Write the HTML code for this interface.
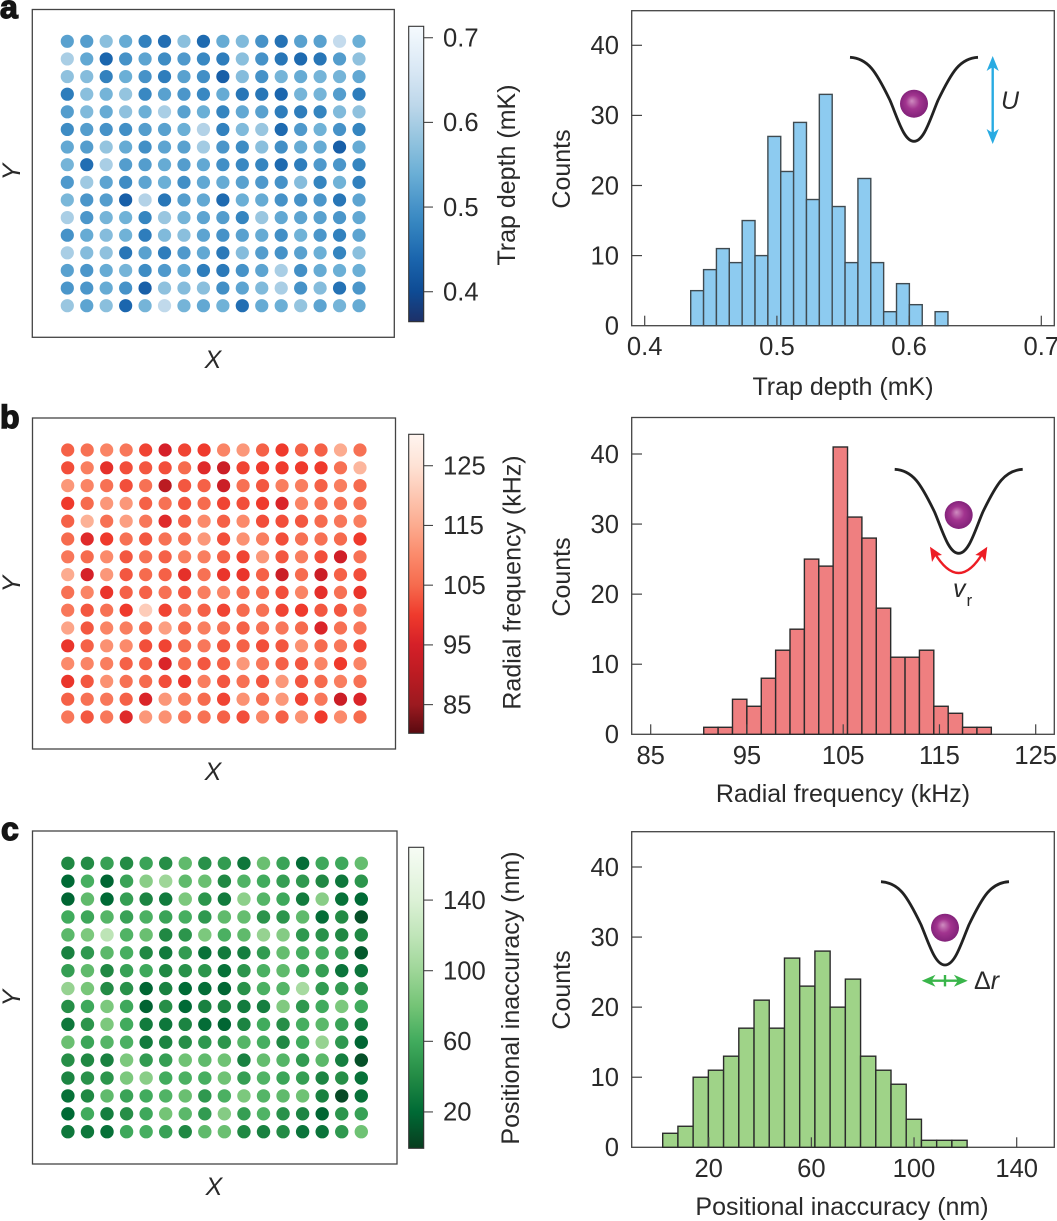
<!DOCTYPE html>
<html lang="en">
<head>
<meta charset="utf-8">
<title>Optical trap array statistics</title>
<style>
html,body{margin:0;padding:0;background:#fff;}
svg{display:block;font-family:"Liberation Sans",sans-serif;fill:#2a2a2a;}
.tick{font-size:25.6px;}
.title{font-size:25px;}
.ital{font-size:25px;font-style:italic;}
.letter{font-size:32px;font-weight:bold;fill:#151515;stroke:#151515;stroke-width:1.4px;}
</style>
</head>
<body>
<svg id="figure" xmlns="http://www.w3.org/2000/svg" width="1057" height="1221" viewBox="0 0 1057 1221">
  <defs>
    <radialGradient id="ballGrad" cx="50%" cy="50%" r="55%" fx="42%" fy="40%">
      <stop offset="0" stop-color="#cf8cc0"/>
      <stop offset=".45" stop-color="#a2348f"/>
      <stop offset="1" stop-color="#7d1f76"/>
    </radialGradient>
  </defs>
  <rect width="1057" height="1221" fill="#fff"/>

  <text class="letter" x="0" y="18">a</text>
  <text class="letter" x="0" y="428">b</text>
  <text class="letter" x="1" y="840">c</text>

  <g id="panelA">
    <text class="ital" x="213" y="368" text-anchor="middle">X</text>
    <text class="ital" transform="translate(20,172) rotate(-90)" text-anchor="middle">Y</text>
    <text class="title" transform="translate(515,175) rotate(-90)" text-anchor="middle">Trap depth (mK)</text>
    <text class="title" transform="translate(570,169) rotate(-90)" text-anchor="middle">Counts</text>
    <text class="title" x="843" y="395" text-anchor="middle">Trap depth (mK)</text>
  </g>
  <g id="panelB">
    <text class="ital" x="213" y="780" text-anchor="middle">X</text>
    <text class="ital" transform="translate(20,584) rotate(-90)" text-anchor="middle">Y</text>
    <text class="title" transform="translate(520.5,582.5) rotate(-90)" text-anchor="middle">Radial frequency (kHz)</text>
    <text class="title" transform="translate(570,577) rotate(-90)" text-anchor="middle">Counts</text>
    <text class="title" x="843" y="802" text-anchor="middle">Radial frequency (kHz)</text>
  </g>
  <g id="panelC">
    <text class="ital" x="214" y="1195" text-anchor="middle">X</text>
    <text class="ital" transform="translate(20,998) rotate(-90)" text-anchor="middle">Y</text>
    <text class="title" transform="translate(519,998) rotate(-90)" text-anchor="middle">Positional inaccuracy (nm)</text>
    <text class="title" transform="translate(570,990) rotate(-90)" text-anchor="middle">Counts</text>
    <text class="title" x="842" y="1215" text-anchor="middle">Positional inaccuracy (nm)</text>
  </g>

  <g id="insets">
    <g>
      <path transform="translate(914,57.3)" d="M-64 0C-46 1-38 14-24 43C-16 62-10 84 0 84C10 84 16 62 24 43C38 14 46 1 64 0" fill="none" stroke="#222" stroke-width="2.8"/>
      <circle cx="914" cy="103.7" r="14" fill="url(#ballGrad)"/>
      <line x1="992.7" y1="64" x2="992.7" y2="136" stroke="#29abe2" stroke-width="2.4"/>
      <polygon points="992.7,56 998.8,71 992.7,67 986.6,71" fill="#29abe2"/>
      <polygon points="992.7,144 998.8,129 992.7,133 986.6,129" fill="#29abe2"/>
      <text class="ital" x="1001" y="109">U</text>
    </g>
    <g>
      <path transform="translate(958.7,469.3)" d="M-64 0C-46 1-38 14-24 43C-16 62-10 84 0 84C10 84 16 62 24 43C38 14 46 1 64 0" fill="none" stroke="#222" stroke-width="2.8"/>
      <circle cx="958.7" cy="515" r="14" fill="url(#ballGrad)"/>
      <path d="M934 552Q958.7 594 983.4 552" fill="none" stroke="#ed1c24" stroke-width="2.4"/>
      <polygon points="930,546.7 932,562 935.5,556 942,555" fill="#ed1c24"/>
      <polygon points="987.3,546.7 985.3,562 981.8,556 975.3,555" fill="#ed1c24"/>
      <text class="ital" x="953" y="597">v<tspan font-style="normal" font-size="17" dx="1" dy="9">r</tspan></text>
    </g>
    <g>
      <path transform="translate(945,881.7)" d="M-64 0C-46 1-38 14-24 43C-16 62-10 83.3 0 83.3C10 83.3 16 62 24 43C38 14 46 1 64 0" fill="none" stroke="#222" stroke-width="2.8"/>
      <circle cx="945" cy="927.7" r="14" fill="url(#ballGrad)"/>
      <line x1="930" y1="980.7" x2="960" y2="980.7" stroke="#39b54a" stroke-width="2.4"/>
      <line x1="945" y1="975" x2="945" y2="986.4" stroke="#39b54a" stroke-width="2.4"/>
      <polygon points="921.7,980.7 935.5,974.7 931.5,980.7 935.5,986.7" fill="#39b54a"/>
      <polygon points="967.7,980.7 953.9,974.7 957.9,980.7 953.9,986.7" fill="#39b54a"/>
      <text x="974" y="989" font-size="25">Δ<tspan font-style="italic">r</tspan></text>
    </g>
  </g>
</svg>

<script>
// ---------- Panel a data ----------
const trapDepthMap = [
[.52,.515,.57,.535,.475,.45,.57,.445,.535,.56,.50,.455,.52,.52,.63,.54],
[.60,.53,.44,.50,.525,.49,.51,.485,.47,.57,.50,.46,.445,.46,.515,.575],
[.575,.565,.475,.54,.50,.47,.52,.495,.43,.565,.50,.55,.535,.55,.55,.53],
[.47,.57,.55,.58,.485,.52,.505,.485,.535,.46,.46,.44,.55,.55,.515,.47],
[.515,.56,.535,.575,.54,.60,.52,.54,.48,.53,.52,.47,.47,.48,.56,.575],
[.49,.515,.50,.495,.515,.52,.54,.61,.475,.56,.585,.445,.51,.545,.50,.48],
[.53,.515,.58,.535,.495,.525,.52,.595,.505,.49,.57,.495,.535,.535,.43,.535],
[.55,.45,.60,.515,.515,.535,.515,.53,.495,.485,.48,.445,.47,.51,.505,.48],
[.51,.59,.525,.49,.525,.54,.495,.53,.535,.52,.51,.50,.565,.48,.545,.475],
[.555,.505,.515,.43,.61,.46,.515,.53,.445,.54,.535,.50,.50,.505,.46,.525],
[.60,.505,.55,.545,.48,.585,.55,.525,.515,.48,.585,.53,.525,.52,.505,.53],
[.50,.535,.565,.545,.47,.56,.57,.525,.50,.52,.535,.495,.545,.505,.475,.525],
[.60,.565,.575,.46,.52,.47,.51,.53,.465,.565,.515,.50,.52,.54,.48,.57],
[.52,.505,.535,.55,.49,.51,.53,.47,.465,.50,.525,.60,.495,.535,.54,.54],
[.505,.505,.535,.50,.43,.575,.565,.57,.495,.525,.56,.60,.50,.565,.455,.505],
[.585,.525,.57,.44,.55,.625,.55,.53,.545,.45,.535,.54,.58,.525,.55,.535]
];
const trapDepthColorbarTicks = [0.7, 0.6, 0.5, 0.4];
const trapDepthColorbarLabels = ["0.7", "0.6", "0.5", "0.4"];
const trapDepthCounts = [5,8,11,9,15,10,27,22,29,18,33,17,9,21,9,2,6,3,0,2];
const trapDepthBinStart = 0.4348;
const trapDepthBinWidth = 0.00973;
const trapDepthHistTicks = [0.4, 0.5, 0.6, 0.7];
const trapDepthHistLabels = ["0.4", "0.5", "0.6", "0.7"];

// ---------- Panel b data ----------
const radialFrequencyMap = [
[104,106,109,107,101,95,101,100,109,112,104,100,104,104,115,106],
[102,108,98,102,103,102,105,97,93,101,100,100,100,100,106,117],
[112,109,106,102,106,90,103,104,93,106,103,108,108,104,108,105],
[100,105,112,112,104,106,103,105,101,102,100,96,109,106,106,106],
[104,116,106,113,107,97,104,110,104,110,102,102,103,105,107,108],
[105,97,100,106,103,106,106,112,102,111,108,102,106,106,105,100],
[107,105,110,103,106,104,108,108,104,101,112,103,108,102,94,106],
[115,95,112,103,105,104,98,106,99,99,104,93,105,93,104,102],
[106,109,99,104,104,106,103,108,109,105,105,102,109,98,106,99],
[107,103,106,100,121,101,107,104,101,105,106,101,100,103,103,107],
[114,103,109,108,105,113,105,108,106,104,106,107,105,96,106,107],
[99,104,111,110,102,101,105,107,103,104,102,103,111,105,107,101],
[110,109,108,104,104,96,105,103,104,112,107,104,103,109,100,109],
[99,103,111,106,105,102,99,108,103,106,103,112,103,105,108,106],
[104,106,107,104,96,112,108,105,101,111,106,112,101,107,93,96],
[107,103,107,97,112,111,107,106,104,102,109,104,111,100,110,105]
];
const radialFrequencyColorbarTicks = [125, 115, 105, 95, 85];
const radialFrequencyColorbarLabels = ["125", "115", "105", "95", "85"];
const radialFrequencyCounts = [1,1,5,4,8,12,15,25,24,41,31,28,18,11,11,12,4,3,1,1];
const radialFrequencyBinStart = 90.51;
const radialFrequencyBinWidth = 1.494;
const radialFrequencyHistTicks = [85, 95, 105, 115, 125];
const radialFrequencyHistLabels = ["85", "95", "105", "115", "125"];

// ---------- Panel c data ----------
const positionalInaccuracyMap = [
[38,40,53,40,55,42,72,44,50,28,76,55,22,58,58,74],
[20,62,18,55,90,100,72,76,38,66,60,52,48,38,28,46],
[18,72,20,52,36,30,84,46,30,92,68,58,30,90,24,20],
[60,57,68,54,64,55,62,48,72,74,45,46,72,22,40,8],
[70,84,118,66,76,38,46,84,64,72,96,88,48,44,38,38],
[34,48,70,62,38,30,50,25,30,32,50,74,62,62,54,12],
[52,72,38,54,58,38,44,46,24,46,64,72,56,52,26,26],
[96,82,40,44,18,34,20,22,18,44,64,68,105,50,50,44],
[42,58,84,58,17,42,20,34,36,30,32,86,48,60,84,60],
[28,46,84,60,30,28,36,22,18,36,60,42,62,70,55,30],
[76,56,68,64,30,36,42,48,46,68,62,38,60,96,48,18],
[42,38,34,84,50,52,78,72,78,34,74,68,50,70,32,8],
[36,44,46,84,90,60,64,62,78,52,66,56,52,36,42,24],
[24,38,72,55,60,66,76,48,64,84,68,72,78,34,5,24],
[20,60,32,42,58,80,70,50,88,52,66,44,36,18,46,54],
[28,28,24,58,62,54,38,72,76,38,34,40,26,26,48,78]
];
const positionalInaccuracyColorbarTicks = [140, 100, 60, 20];
const positionalInaccuracyColorbarLabels = ["140", "100", "60", "20"];
const positionalInaccuracyCounts = [2,3,10,11,13,17,21,17,27,23,28,20,24,13,11,9,4,1,1,1];
const positionalInaccuracyBinStart = 2.08;
const positionalInaccuracyBinWidth = 5.93;
const positionalInaccuracyHistTicks = [20, 60, 100, 140];
const positionalInaccuracyHistLabels = ["20", "60", "100", "140"];

const countTicks = [0, 10, 20, 30, 40];
const countLabels = ["0", "10", "20", "30", "40"];

// ---------- Colour ramps (value, colour) ----------
const bluesRamp = [[.3646,"#1d3068"],[.40,"#0e4b94"],[.44,"#1b66ae"],[.48,"#3585c0"],[.50,"#4692c8"],[.54,"#6bafd6"],[.58,"#94c4df"],[.62,"#bdd7ea"],[.66,"#d8e7f4"],[.7135,"#f5fafe"]];
const redsRamp = [[80.2,"#5a0a10"],[85,"#9c1a20"],[90,"#bb1b22"],[95,"#d52028"],[100,"#ef3a2c"],[105,"#f66b4e"],[110,"#fb8a6b"],[115,"#fcab8f"],[120,"#fdc7b2"],[125,"#fee2d5"],[130.26,"#fff5f0"]];
const greensRamp = [[-0.6,"#083d1f"],[20,"#006a35"],[40,"#238b45"],[60,"#41ab5d"],[80,"#74c476"],[100,"#9ed698"],[120,"#c0e5b9"],[140,"#dcf1d6"],[169.9,"#f7fcf5"]];

const SVGNS = "http://www.w3.org/2000/svg";
const figure = document.getElementById("figure");

function make(tag, attrs, parent) {
  const node = document.createElementNS(SVGNS, tag);
  for (const key in attrs) node.setAttribute(key, attrs[key]);
  parent.appendChild(node);
  return node;
}
function linear(d0, d1, r0, r1) {
  return function (v) { return r0 + (v - d0) * (r1 - r0) / (d1 - d0); };
}
function hexToRgb(h) {
  return [parseInt(h.slice(1,3),16), parseInt(h.slice(3,5),16), parseInt(h.slice(5,7),16)];
}
function rampColor(ramp, v) {
  if (v <= ramp[0][0]) return ramp[0][1];
  for (let i = 1; i < ramp.length; i++) {
    if (v <= ramp[i][0]) {
      const t = (v - ramp[i-1][0]) / (ramp[i][0] - ramp[i-1][0]);
      const a = hexToRgb(ramp[i-1][1]), b = hexToRgb(ramp[i][1]);
      return "rgb(" + a.map(function (c, k) { return Math.round(c + (b[k] - c) * t); }).join(",") + ")";
    }
  }
  return ramp[ramp.length - 1][1];
}

function drawMap(cfg) {
  const g = make("g", {}, figure);
  
  
  const frame = make("rect", {x: cfg.left, y: cfg.top, width: cfg.right - cfg.left, height: cfg.bottom - cfg.top, fill: "none", stroke: "#444", "stroke-width": 1.3}, g);
  
  
  const nRows = cfg.values.length, nCols = cfg.values[0].length;
  const xScale = linear(0, nCols - 1, cfg.x0, cfg.x1);
  const yScale = linear(0, nRows - 1, cfg.y0, cfg.y1);
  cfg.values.forEach(function (row, r) {
    row.forEach(function (v, c) {
      const dot = make("circle", {cx: xScale(c), cy: yScale(r), r: cfg.radius, fill: rampColor(cfg.ramp, v)}, g);
      
      
    });
  });
}

function drawColorbar(cfg) {
  const g = make("g", {}, figure);
  
  
  const yScale = linear(cfg.min, cfg.max, cfg.bottom, cfg.top);
  const defs = make("defs", {}, g);
  const gradId = "cbGrad" + cfg.id;
  const grad = make("linearGradient", {id: gradId, x1: 0, y1: 1, x2: 0, y2: 0}, defs);
  cfg.ramp.forEach(function (s) {
    make("stop", {offset: (s[0] - cfg.min) / (cfg.max - cfg.min), "stop-color": s[1]}, grad);
  });
  const bar = make("rect", {x: 408.7, y: cfg.top, width: 15, height: cfg.bottom - cfg.top, fill: "url(#" + gradId + ")", stroke: "#333", "stroke-width": 1.1}, g);
  
  
  cfg.ticks.forEach(function (v, i) {
    const y = yScale(v);
    const tick = make("line", {x1: 424, x2: 433, y1: y, y2: y, stroke: "#444", "stroke-width": 1.1}, g);
    
    
    const label = make("text", {x: 443, y: y + 8.8, "class": "tick"}, g);
    label.textContent = cfg.labels[i];
    
    
  });
}

function drawHistogram(cfg) {
  const g = make("g", {}, figure);
  
  
  const xScale = linear(cfg.xd0, cfg.xd1, cfg.xr0, cfg.xr1);
  const yScale = linear(0, 40, cfg.bottom, cfg.y40);
  const frame = make("rect", {x: 631.7, y: cfg.top, width: 422.6, height: cfg.bottom - cfg.top, fill: "none", stroke: "#444", "stroke-width": 1.3}, g);
  
  
  cfg.counts.forEach(function (count, i) {
    if (count === 0) return;
    const x0 = xScale(cfg.binStart + i * cfg.binWidth);
    const x1 = xScale(cfg.binStart + (i + 1) * cfg.binWidth);
    const bar = make("rect", {x: x0, y: yScale(count), width: x1 - x0, height: yScale(0) - yScale(count), fill: cfg.fill, stroke: cfg.edge, "stroke-width": 1.4}, g);
    
    
  });
  countTicks.forEach(function (v, i) {
    const y = yScale(v);
    if (v > 0) {
      const tick = make("line", {x1: 631.7, x2: 642, y1: y, y2: y, stroke: "#444", "stroke-width": 1.2}, g);
      
      
    }
    const label = make("text", {x: 619, y: y + 8.8, "text-anchor": "end", "class": "tick"}, g);
    label.textContent = countLabels[i];
    
    
  });
  cfg.ticks.forEach(function (v, i) {
    const x = xScale(v);
    const tick = make("line", {x1: x, x2: x, y1: cfg.bottom, y2: cfg.bottom - 10, stroke: "#444", "stroke-width": 1.2}, g);
    
    
    const label = make("text", {x: x, y: cfg.labelY, "text-anchor": "middle", "class": "tick"}, g);
    label.textContent = cfg.labels[i];
    
    
  });
}

drawMap({id: "a", values: trapDepthMap, ramp: bluesRamp, left: 32.3, right: 394.3, top: 9.5, bottom: 337.3, x0: 67.3, x1: 359, y0: 41.3, y1: 305.7, radius: 6.6});
drawMap({id: "b", values: radialFrequencyMap, ramp: redsRamp, left: 32.5, right: 395.5, top: 418, bottom: 749, x0: 67.7, x1: 360, y0: 450, y1: 717, radius: 6.6});
drawMap({id: "c", values: positionalInaccuracyMap, ramp: greensRamp, left: 32.5, right: 397, top: 831, bottom: 1164, x0: 67.9, x1: 361.3, y0: 863.3, y1: 1131.7, radius: 6.7});

drawColorbar({id: "a", ramp: bluesRamp, ticks: trapDepthColorbarTicks, labels: trapDepthColorbarLabels, min: .3646, max: .7135, top: 26.3, bottom: 321.7});
drawColorbar({id: "b", ramp: redsRamp, ticks: radialFrequencyColorbarTicks, labels: radialFrequencyColorbarLabels, min: 80.2, max: 130.26, top: 434.3, bottom: 733.3});
drawColorbar({id: "c", ramp: greensRamp, ticks: positionalInaccuracyColorbarTicks, labels: positionalInaccuracyColorbarLabels, min: -0.6, max: 169.9, top: 847.3, bottom: 1148.3});

drawHistogram({id: "a", counts: trapDepthCounts, binStart: trapDepthBinStart, binWidth: trapDepthBinWidth, ticks: trapDepthHistTicks, labels: trapDepthHistLabels, xd0: .4, xd1: .7, xr0: 644.7, xr1: 1041.3, top: 10.7, bottom: 325.7, y40: 45.3, labelY: 355, fill: "#8dcbf0", edge: "#3f4a50"});
drawHistogram({id: "b", counts: radialFrequencyCounts, binStart: radialFrequencyBinStart, binWidth: radialFrequencyBinWidth, ticks: radialFrequencyHistTicks, labels: radialFrequencyHistLabels, xd0: 85, xd1: 125, xr0: 650.7, xr1: 1035.7, top: 417.5, bottom: 734.3, y40: 454, labelY: 764, fill: "#ef7f80", edge: "#2b2b2b"});
drawHistogram({id: "c", counts: positionalInaccuracyCounts, binStart: positionalInaccuracyBinStart, binWidth: positionalInaccuracyBinWidth, ticks: positionalInaccuracyHistTicks, labels: positionalInaccuracyHistLabels, xd0: 20, xd1: 140, xr0: 708.7, xr1: 1016.7, top: 831.7, bottom: 1147.3, y40: 867, labelY: 1177, fill: "#9fd388", edge: "#2b2b2b"});

// keep the schematics on top of the bars
figure.appendChild(document.getElementById("insets"));
</script>
</body>
</html>
